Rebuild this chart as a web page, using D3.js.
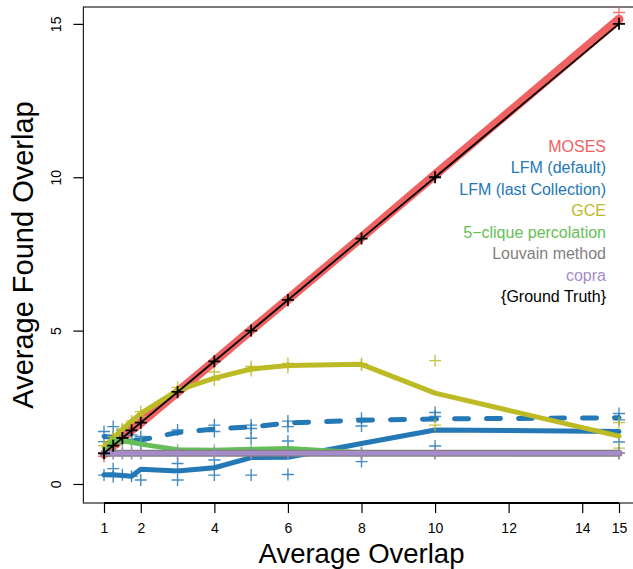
<!DOCTYPE html>
<html><head><meta charset="utf-8">
<script src="https://cdn.jsdelivr.net/npm/d3@7"></script>
<style>
html,body{margin:0;padding:0;background:#fff;}
svg{display:block;font-family:"Liberation Sans",Arial,Helvetica,sans-serif;}
</style></head>
<body>
<svg id="chart" width="633" height="569"></svg>
<script>
// ---- data ----
const xs = [1, 1.25, 1.5, 1.75, 2, 3, 4, 5, 6, 8, 10, 15];
const xTicks = [1, 2, 4, 6, 8, 10, 12, 14, 15];
const yTicks = [0, 5, 10, 15];

const moses      = [0.97, 1.24, 1.5, 1.76, 2.0, 3.0, 4.0, 5.02, 6.02, 8.04, 10.08, 15.15];
const lfmDefault = [0.3, 0.3, 0.28, 0.25, 0.48, 0.42, 0.53, 0.86, 0.87, 1.32, 1.76, 1.71];
const lfmLast    = [1.55, 1.52, 1.48, 1.44, 1.43, 1.68, 1.79, 1.86, 1.99, 2.08, 2.12, 2.16];
const gce        = [1.2, 1.5, 1.78, 2.05, 2.3, 3.05, 3.45, 3.75, 3.86, 3.9, 2.96, 1.56];
const clique5    = [1.0, 1.38, 1.4, 1.36, 1.3, 1.12, 1.1, 1.13, 1.16, 1.02, 1.0, 1.0];
const louvain    = [1, 1, 1, 1, 1, 1, 1, 1, 1, 1, 1, 1];
const copra      = [1, 1, 1, 1, 1, 1, 1, 1, 1, 1, 1, 1];
const groundTruth = [1, 1.25, 1.5, 1.75, 2, 3, 4, 5, 6, 8, 10, 15];

// individual samples (crosses)
const mosesPts = [[1,0.9],[1.25,1.2],[1.5,1.45],[1.75,1.75],[2,1.98],[3,2.98],[4,3.98],[5,5.0],[6,5.98],[8,8.02],[10,10.05],[15,15.37]];
const lfmDefaultPts = [[1,0.29],[1.25,0.5],[1.25,0.24],[1.5,0.3],[1.75,0.25],[2,0.13],[3,0.67],[3,0.13],[4,0.78],[4,0.29],[5,0.29],[6,0.31],[8,0.73],[10,1.24],[15,1.37]];
const lfmLastPts = [[1,1.71],[1,1.38],[1.25,1.87],[1.25,1.54],[1.5,1.75],[1.5,1.45],[1.75,1.6],[1.75,1.45],[2,1.55],[2,1.33],[3,1.76],[4,1.92],[4,1.71],[5,1.92],[5,1.81],[5,1.49],[6,2.05],[6,1.87],[6,1.4],[8,2.14],[8,1.89],[10,2.33],[10,2.2],[15,2.3],[15,2.09]];
const gcePts = [[1,1.25],[1.25,1.55],[1.5,1.8],[1.75,2.05],[2,2.36],[2,2.2],[3,3.01],[3,3.15],[4,3.65],[4,3.39],[5,3.83],[5,3.7],[6,3.93],[6,3.8],[8,3.92],[8,3.88],[10,4.02],[10,1.92],[15,2.0],[15,1.17]];
const cliquePts = [[1,1.0],[1.25,1.38],[1.5,1.4],[1.75,1.36],[2,1.3],[3,1.12],[4,1.1],[5,1.13],[6,1.16],[8,1.02],[10,1.0],[15,1.0]];
const louvainPts = xs.map((x,i)=>[x, louvain[i]]);
const copraPts = xs.map((x,i)=>[x, copra[i]]);
const truthPts = xs.map((x,i)=>[x, groundTruth[i]]);

const legendLabels = ["MOSES","LFM (default)","LFM (last Collection)","GCE","5\u2212clique percolation","Louvain method","copra","{Ground Truth}"];
const legendColors = ["#F06262","#2378B5","#2378B5","#BDBB25","#66BE58","#7F7F7F","#A68BCA","#000000"];

// ---- chart ----
const svg = d3.select("#chart");
const x = d3.scaleLinear().domain([0.44, 15.56]).range([83.4, 639.6]);
const y = d3.scaleLinear().domain([-0.62, 15.55]).range([503, 7]);

// box
svg.append("rect").attr("x", x(0.44)).attr("y", y(15.55))
  .attr("width", x(15.56)-x(0.44)).attr("height", y(-0.62)-y(15.55))
  .attr("fill","none").attr("stroke","#222").attr("stroke-width",1.2);

const series = [
  {vals: moses, pts: mosesPts, color:"#F06262", w:9},
  {vals: lfmDefault, pts: lfmDefaultPts, color:"#2378B5", w:5},
  {vals: lfmLast, pts: lfmLastPts, color:"#2378B5", w:5, dash:"14,18"},
  {vals: gce, pts: gcePts, color:"#BDBB25", w:5},
  {vals: clique5, pts: cliquePts, color:"#66BE58", w:5},
  {vals: louvain, pts: louvainPts, color:"#7F7F7F", w:7},
  {vals: copra, pts: copraPts, color:"#A68BCA", w:4.5},
  {vals: groundTruth, pts: truthPts, color:"#000000", w:1.8}
];

const line = d3.line().x(d=>x(d[0])).y(d=>y(d[1]));
const cs = 6;
const plot = svg.append("g");
series.forEach(s=>{
  const data = xs.map((xv,i)=>[xv, s.vals[i]]);
  plot.append("path").attr("d", line(data)).attr("fill","none")
    .attr("stroke", s.color).attr("stroke-width", s.w)
    .attr("stroke-linecap","round").attr("stroke-linejoin","round")
    .attr("stroke-dasharray", s.dash || null);
  const g = plot.append("g").attr("stroke", s.color).attr("stroke-width", s.color==="#000000"?1.8:1.4)
    .attr("stroke-opacity", s.color==="#000000"?1:0.85);
  g.selectAll("path").data(s.pts).join("path")
    .attr("d", d=>`M${x(d[0])-cs},${y(d[1])}H${x(d[0])+cs}M${x(d[0])},${y(d[1])-cs}V${y(d[1])+cs}`)
    .attr("fill","none");
});

// x axis
const xAxis = d3.axisBottom(x).tickValues(xTicks).tickFormat(d3.format("d")).tickSize(10).tickPadding(10);
const gx = svg.append("g").attr("transform", `translate(0,${y(-0.62)})`).call(xAxis);
gx.select(".domain").attr("d", `M${x(1)},0H${x(15)}`).attr("stroke","#000").attr("stroke-width",2);
gx.selectAll(".tick line").attr("stroke","#000").attr("stroke-width",1.2);
gx.selectAll("text").attr("font-size",14).attr("font-family","Liberation Sans, Arial, sans-serif").attr("fill","#000");

// y axis
const yAxis = d3.axisLeft(y).tickValues(yTicks).tickFormat(d3.format("d")).tickSize(10);
const gy = svg.append("g").attr("transform", `translate(${x(0.44)},0)`).call(yAxis);
gy.select(".domain").remove();
gy.selectAll(".tick line").attr("stroke","#000").attr("stroke-width",1.2);
gy.selectAll("text").attr("font-size",14).attr("font-family","Liberation Sans, Arial, sans-serif").attr("fill","#000")
  .attr("x",0).attr("dy",null).attr("text-anchor","middle")
  .attr("transform","translate(-27,0) rotate(-90)").attr("y",0).attr("dominant-baseline","central");

// axis titles
svg.append("text").attr("x", (x(0.44)+x(15.56))/2).attr("y", 563)
  .attr("text-anchor","middle").attr("font-size",27.5).text("Average Overlap");
svg.append("text").attr("transform", `translate(33,${(y(15.55)+y(-0.62))/2}) rotate(-90)`)
  .attr("text-anchor","middle").attr("font-size",29).text("Average Found Overlap");

// legend
const lg = svg.append("g");
legendLabels.forEach((t,i)=>{
  lg.append("text").attr("x",606).attr("y",146 + i*21.5).attr("dominant-baseline","central")
    .attr("text-anchor","end").attr("font-size",16).attr("fill",legendColors[i]).text(t);
});
</script>
</body></html>
